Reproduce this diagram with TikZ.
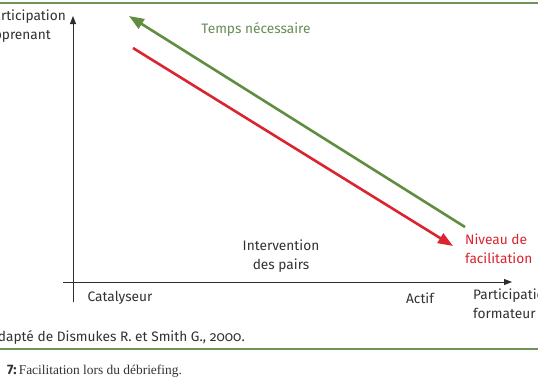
\documentclass[tikz,border=0pt]{standalone}
\usepackage{fontspec}
\setmainfont{Fira Sans}
\newfontfamily\capserif{Liberation Serif}
\usetikzlibrary{arrows.meta}
\definecolor{arrgreen}{RGB}{96,142,64}
\definecolor{txtgreen}{RGB}{104,140,84}
\definecolor{arrred}{RGB}{218,36,48}
\definecolor{rulegreen}{RGB}{112,146,84}
\definecolor{txtgray}{RGB}{50,50,50}
\tikzset{
  axis/.style={draw=txtgray!90!black, line width=0.9pt, -{Triangle[length=8pt,width=6pt]}},
  trend/.style={line width=2.6pt, -{Triangle[length=15pt,width=11pt]}},
  lbl/.style={text=txtgray, inner sep=0pt, align=center, font=\fontsize{13.7}{18.5}\selectfont},
  rulebar/.style={draw=rulegreen, line width=2pt}
}
\begin{document}
\begin{tikzpicture}[x=1pt,y=-1pt]
\useasboundingbox (0,0) rectangle (538,384);
\fill[white] (0,0) rectangle (538,384);
% rules
\coordinate (r1l) at (0,3);  \coordinate (r1r) at (538,3);
\coordinate (r2l) at (0,349); \coordinate (r2r) at (538,349);
\draw[rulebar] (r1l) -- (r1r);
\draw[rulebar] (r2l) -- (r2r);
% axes
\coordinate (yb) at (73,302); \coordinate (yt) at (73,16);
\coordinate (xl) at (63,282); \coordinate (xr) at (512,282);
\draw[axis] (yb) -- (yt);
\draw[axis] (xl) -- (xr);
% trend arrows
\coordinate (gs) at (465,227); \coordinate (ge) at (129,16);
\coordinate (rs) at (133,48);  \coordinate (re) at (453,246);
\draw[trend, draw=arrgreen, arrows={-{Triangle[length=15pt,width=11pt,fill=arrgreen]}}] (gs) -- (ge);
\draw[trend, draw=arrred] (rs) -- (re);
% labels
\node[lbl, align=left, anchor=north east] (pa) at (66,10) {Participation\\\makebox[0pt][l]{apprenant}\phantom{Participation}};
\node[lbl, text=txtgreen, anchor=center] (tn) at (256,29) {Temps nécessaire};
\node[lbl, anchor=center] (ip) at (281,256) {Intervention\\des pairs};
\node[lbl, text=arrred, align=left, anchor=north west] (nf) at (465,234) {Niveau de\\facilitation};
\node[lbl, anchor=center] (ca) at (120,298) {Catalyseur};
\node[lbl, anchor=center] (ac) at (420,298) {Actif};
\node[lbl, align=left, anchor=north west] (pf) at (473,289) {Participation\\formateur};
\node[lbl, anchor=base east, font=\fontsize{13.7}{16}\selectfont\addfontfeatures{Numbers=OldStyle}] (src) at (245,341) {Adapté de Dismukes R. et Smith G., 2000.};
\node[lbl, anchor=base west] (cap) at (7,374) {\textbf{7:}\,{\capserif\fontsize{13.4}{15}\selectfont Facilitation lors du débriefing.}};
\end{tikzpicture}
\end{document}
